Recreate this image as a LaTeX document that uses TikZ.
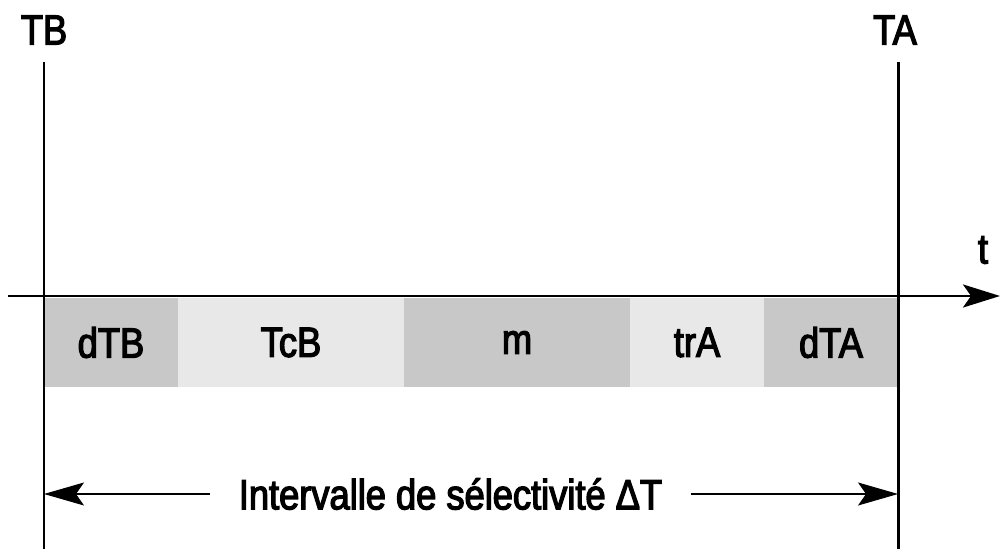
\documentclass[tikz,border=0pt]{standalone}
\usepackage{fontspec}
\setmainfont{Liberation Sans}[FakeStretch=0.86, FakeBold=3]
\usetikzlibrary{arrows.meta,positioning}
\definecolor{segdark}{HTML}{C8C8C8}
\definecolor{seglight}{HTML}{E8E8E8}

\begin{document}
\begin{tikzpicture}[
  >=Stealth,
  lbl/.style={font=\fontsize{12}{14}\selectfont, inner sep=0pt},
  seg/.style={lbl, minimum height=0.89cm, draw=none},
  vline/.style={line width=0.85pt},
  axis/.style={line width=0.85pt, -{Stealth[length=0.37cm, width=0.23cm, inset=0.08cm]}},
  dim/.style={line width=0.3pt, -{Stealth[length=0.4cm, width=0.23cm, inset=0.08cm]}}]
  \useasboundingbox (0,0) rectangle (10,5.49);
  % segments of the interval
  \foreach \nm/\xa/\xb/\col in {dTB/0.44/1.78/segdark, TcB/1.78/4.04/seglight,
      m/4.04/6.30/segdark, trA/6.30/7.64/seglight, dTA/7.64/8.98/segdark}
     \node[seg, fill=\col, minimum width={(\xb-\xa)*1cm}] (\nm) at ({(\xa+\xb)/2}, 2.065) {\nm};
  % time axis
  \coordinate (t0) at (0.08, 2.53);
  \coordinate (t1) at (10.0, 2.53);
  \draw[axis] (t0) -- (t1);
  \node[lbl] (tlab) at (9.83, 2.99) {t};
  % instants TB and TA
  \coordinate (tbtop) at (0.44, 4.87);
  \coordinate (tbbot) at (0.44, 0);
  \coordinate (tatop) at (8.98, 4.87);
  \coordinate (tabot) at (8.98, 0);
  \draw[vline] (tbtop) -- (tbbot);
  \draw[vline] (tatop) -- (tabot);
  \node[lbl] (TB) at (0.44, 5.19) {TB};
  \node[lbl] (TA) at (8.95, 5.19) {TA};
  % selectivity interval
  \coordinate (dl) at (0.44, 0.55);
  \coordinate (dr) at (8.98, 0.55);
  \node[lbl, inner xsep=0.28cm] (iv) at (4.505, 0.55) {Intervalle de sélectivité ΔT};
  \draw[dim] (iv) -- (dl);
  \draw[dim] (iv) -- (dr);
\end{tikzpicture}
\end{document}
